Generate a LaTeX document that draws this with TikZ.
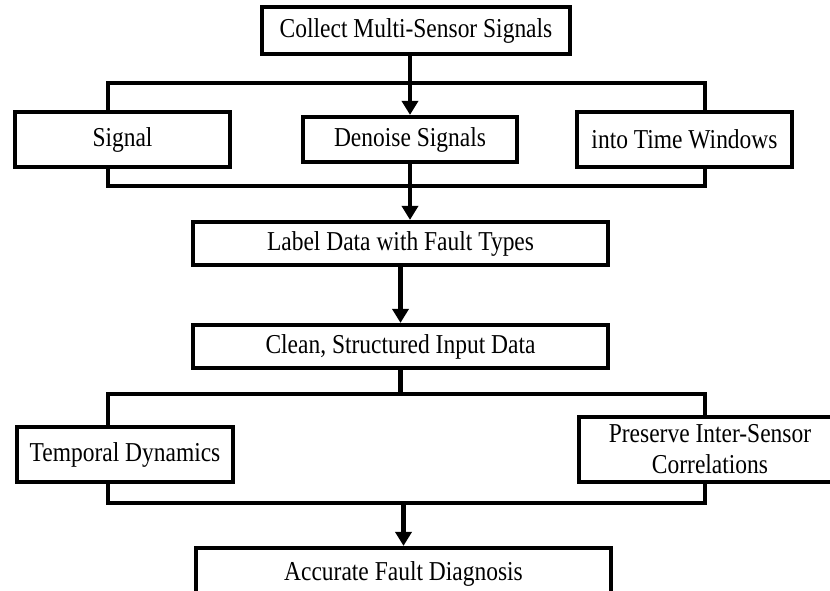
\documentclass[tikz,border=0pt]{standalone}
\usepackage{fontspec}
\setmainfont{Liberation Serif}[FakeStretch=0.86]
\usetikzlibrary{arrows.meta}
\begin{document}
\begin{tikzpicture}[x=1pt,y=-1pt,
  box/.style={draw=black,line width=4.2pt,fill=white,inner sep=0pt,
    align=center,font=\fontsize{27.3}{31}\selectfont},
  link/.style={line width=4.2pt},
  flow/.style={line width=4.2pt,-{Triangle[length=14pt,width=16pt]}}]
\useasboundingbox (0,0) rectangle (830,590);
\clip (0,0) rectangle (830,590);

% process boxes
\node[box,minimum width=308pt,minimum height=47pt] (collect) at (416,30.5) {Collect Multi-Sensor Signals};
\node[box,minimum width=215pt,minimum height=55pt] (signal) at (122.5,139.5) {Signal};
\node[box,minimum width=214pt,minimum height=45pt] (denoise) at (410,139.5) {Denoise Signals};
\node[box,minimum width=215pt,minimum height=55pt] (windows) at (684.5,139.5) {into Time Windows};
\node[box,minimum width=415pt,minimum height=43pt] (label) at (400.5,243.5) {Label Data with Fault Types};
\node[box,minimum width=415pt,minimum height=43pt] (clean) at (400.5,346.5) {Clean, Structured Input Data};
\node[box,minimum width=216pt,minimum height=55pt] (temporal) at (125,454.5) {Temporal Dynamics};
\node[box,minimum width=262pt,minimum height=65pt] (preserve) at (710,449.5) {Preserve Inter-Sensor\\Correlations};
\node[box,minimum width=415pt,minimum height=52pt] (accurate) at (403.5,574) {Accurate Fault Diagnosis};

% bracket corners
\coordinate (t1) at (108,83);
\coordinate (t2) at (705,83);
\coordinate (b1) at (108,186);
\coordinate (b2) at (705,186);
\coordinate (t3) at (108,394);
\coordinate (t4) at (705,394);
\coordinate (b3) at (108,503);
\coordinate (b4) at (705,503);

% brackets joining the parallel steps
\draw[link] (signal.north -| t1) -- (t1) -- (t2) -- (windows.north -| t2);
\draw[link] (signal.south -| b1) -- (b1) -- (b2) -- (windows.south -| b2);
\draw[link] (temporal.north -| t3) -- (t3) -- (t4) -- (preserve.north -| t4);
\draw[link] (temporal.south -| b3) -- (b3) -- (b4) -- (preserve.south -| b4);

% main flow
\draw[flow] (collect.south -| denoise.north) -- (denoise.north);
\draw[flow] (denoise.south) -- (label.north -| denoise.south);
\draw[flow] (label.south) -- (clean.north);
\coordinate (cb) at (clean.south);
\draw[link] (cb) -- (cb |- t3);
\draw[flow] (accurate.north |- b3) -- (accurate.north);
\end{tikzpicture}
\end{document}
